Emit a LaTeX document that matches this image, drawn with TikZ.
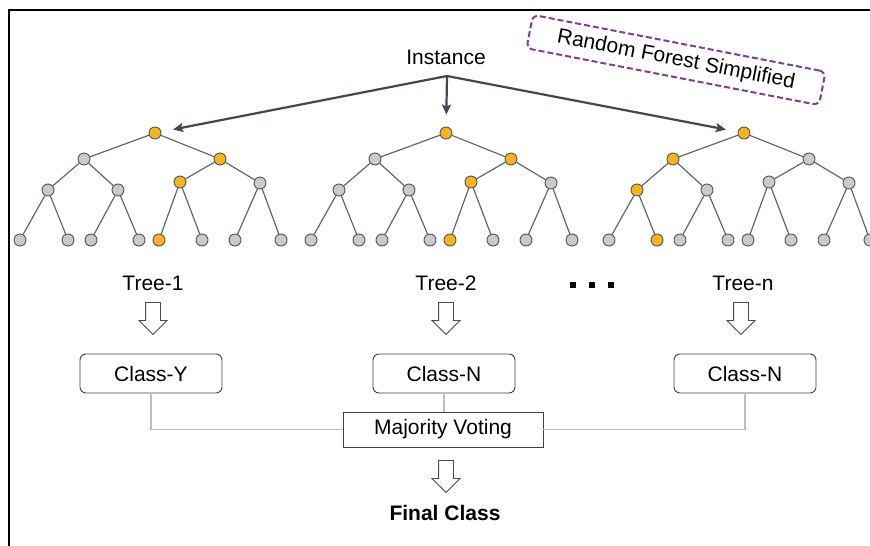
\documentclass[tikz,border=0pt]{standalone}
\usepackage{fontspec}
\setmainfont{Liberation Sans}
\usetikzlibrary{arrows.meta,positioning,shapes.arrows}

\definecolor{hotfill}{HTML}{F7B518}
\definecolor{coldfill}{HTML}{C8CACC}
\definecolor{nodeline}{HTML}{4F555A}
\definecolor{edgegray}{HTML}{5E676E}
\definecolor{feedgray}{HTML}{3D4953}
\definecolor{rfpurple}{HTML}{7D3C9E}
\definecolor{linkgray}{HTML}{BDBFC1}

% one decision tree: name, root x, root y, highlighted nodes (heap index)
\newcommand{\rftree}[6]{%
  \foreach \i/\dx/\dy in {0/0/0, 1/-71/26, 2/65/26, 3/-107/57, 4/-37/57, 5/25/49, 6/105/50,
      7/-135/107, 8/-87/107, 9/-64/107, 10/-16/107, 11/4/107, 12/47/107, 13/80/107, 14/126/107} {
    \pgfmathtruncatemacro\ishot{(\i==0)||(\i==#4)||(\i==#5)||(\i==#6)}
    \ifnum\ishot=1 \def\ncol{hot}\else\def\ncol{cold}\fi
    \node[\ncol] (#1-\i) at ({#2+\dx},{#3+\dy}) {};
  }
  \foreach \p/\c in {0/1,0/2,1/3,1/4,2/5,2/6,3/7,3/8,4/9,4/10,5/11,5/12,6/13,6/14}
    \draw[tedge] (#1-\p) -- (#1-\c);
}

\begin{document}
\begin{tikzpicture}[
  x=1pt, y=-1pt,
  font=\fontsize{21}{25}\selectfont,
  tnode/.style={circle, draw=nodeline, line width=0.9pt, minimum size=12pt, inner sep=0pt},
  hot/.style={tnode, fill=hotfill},
  cold/.style={tnode, fill=coldfill},
  tedge/.style={draw=edgegray, line width=1.2pt},
  feed/.style={draw=feedgray, line width=2.2pt, -{Stealth[length=10pt, width=9pt, inset=2pt]}, shorten >=12pt},
  rfbox/.style={draw=rfpurple, dashed, dash pattern=on 6pt off 3pt, line width=2pt, rounded corners=6pt,
    minimum width=298pt, minimum height=34pt, inner sep=0pt},
  cls/.style={draw=black!75, line width=0.9pt, rounded corners=6pt, minimum width=142pt, minimum height=39pt},
  vote/.style={draw=black!75, line width=0.9pt, minimum width=200pt, minimum height=35pt},
  hollow/.style={single arrow, draw=black!70, line width=0.9pt, fill=white, shape border rotate=270,
    anchor=tail, minimum height=32pt, minimum width=0pt, inner sep=7pt, single arrow head extend=6.5pt},
  sqdot/.style={rectangle, fill=black, minimum size=6.5pt, inner sep=0pt},
  link/.style={draw=linkgray, line width=1.4pt}
]
\useasboundingbox (0,0) rectangle (870,546);

% frame
\draw[line width=2pt] (9,546) -- (9,10) -- (870,10);

% Trees
\rftree{t1}{155}{133}{2}{5}{11}
\rftree{t2}{446}{133}{2}{5}{11}
\rftree{t3}{744}{133}{1}{3}{8}

% Instance and title
\node (instance) at (446,57) {Instance};
\coordinate (split) at (447,76);
\draw[feed] (split) -- (t1-0);
\draw[feed] (split) -- (t2-0);
\draw[feed] (split) -- (t3-0);

\node[rfbox, rotate=-11] (rf) at (676,60) {Random Forest Simplified};

% Tree labels
\node (lbl1) at (153,283) {Tree-1};
\node (lbl2) at (446,283) {Tree-2};
\node (lbln) at (743,283) {Tree-n};
\foreach \k/\x in {1/573,2/592,3/611}
  \node[sqdot] (dot\k) at (\x,285) {};

% Votes
\node[hollow] (down1) at (153,302) {};
\node[hollow] (down2) at (446,302) {};
\node[hollow] (downn) at (741,302) {};

\node[cls] (cls1) at (151,373.5) {Class-Y};
\node[cls] (cls2) at (444,373.5) {Class-N};
\node[cls] (clsn) at (745,373.5) {Class-N};

\node[vote] (vote) at (443,429.5) {Majority Voting};
\draw[link] (cls1.south) |- (vote.west);
\draw[link] (cls2.south) -- (cls2.south |- vote.north);
\draw[link] (clsn.south) |- (vote.east);

\node[hollow] (downv) at (446,460) {};
\node (final) at (445,513) {\bfseries Final Class};

\end{tikzpicture}
\end{document}
